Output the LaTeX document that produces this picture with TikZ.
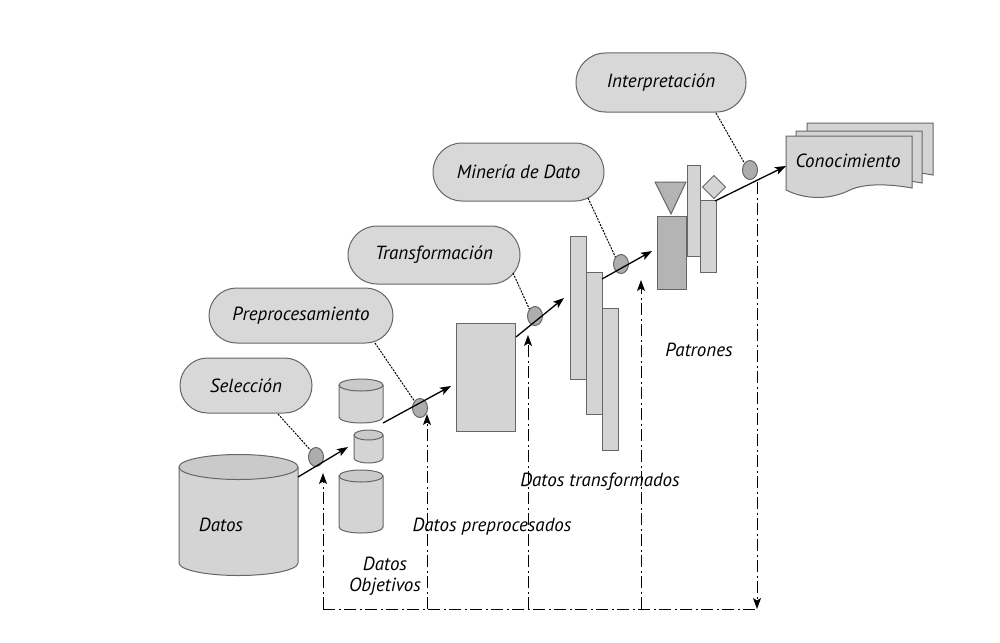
\documentclass[tikz,border=0pt]{standalone}
\usepackage{fontspec}
\setmainfont{PT Sans}
\usetikzlibrary{shapes.misc,shapes.geometric,arrows.meta}
\definecolor{lineg}{HTML}{666666}
\definecolor{pillg}{HTML}{D8D8D8}
\definecolor{barg}{HTML}{D4D4D4}
\definecolor{darkg}{HTML}{B4B4B4}
\definecolor{circg}{HTML}{ADADAD}
\definecolor{topg}{HTML}{CACACA}
\newcommand{\itf}{\fontsize{19}{21}\selectfont\itshape}
\newcommand{\mycyl}[6]{% name, cx, ty, rx, by, ry
  \fill[barg] (#2-#4,#3) -- (#2-#4,#5) arc[start angle=180,end angle=360,x radius=#4pt,y radius=#6pt] -- (#2+#4,#3) -- cycle;
  \draw[outl] (#2-#4,#3) -- (#2-#4,#5) arc[start angle=180,end angle=360,x radius=#4pt,y radius=#6pt] -- (#2+#4,#3);
  \draw[outl,fill=topg] (#2,#3) ellipse[x radius=#4pt,y radius=#6pt];
  \coordinate (#1) at (#2,{(#3+#5)/2});
}
\tikzset{
  outl/.style={draw=lineg, line width=1pt},
  pill/.style={rounded rectangle, outl, fill=pillg, font=\itf, inner sep=0pt},
  bar/.style={rectangle, outl, fill=barg, inner sep=0pt, anchor=north west},
  dbar/.style={bar, fill=darkg},
  conn/.style={ellipse, outl, fill=circg, minimum width=15pt, minimum height=19pt, inner sep=0pt},
  flow/.style={line width=1.3pt, -{Stealth[length=11pt,width=8pt,inset=2.5pt]}},
  callout/.style={line width=1pt, dash pattern=on 2pt off 1.2pt},
  track/.style={line width=1pt, dash pattern=on 12pt off 3.5pt on 2pt off 3.5pt},
  trackarr/.style={track, -{Stealth[length=11pt,width=8pt,inset=2.5pt]}},
  lab/.style={font=\itf, inner sep=0pt},
  doc/.style={outl, fill=barg}
}
\begin{document}
\begin{tikzpicture}[x=1pt,y=-1pt]
\useasboundingbox (0,0) rectangle (1000,642);

% cylinders
\mycyl{datos}{238.5}{467}{59.5}{563}{12.5}
\node[lab] (datoslab) at (221,525) {Datos};
\mycyl{cylA}{361}{385}{22}{417}{6}
\mycyl{cylB}{368.5}{435}{14.5}{458}{5}
\mycyl{cylC}{361}{476}{22}{527}{6}

% preprocessed box
\node[bar, minimum width=59pt, minimum height=108pt] (prep) at (456,323) {};
% transformed bars
\node[bar, minimum width=16pt, minimum height=143pt] (tA) at (570,236) {};
\node[bar, minimum width=16pt, minimum height=142pt] (tB) at (586,272) {};
\node[bar, minimum width=16pt, minimum height=142pt] (tC) at (602,308) {};
% patterns
\node[dbar, minimum width=29pt, minimum height=73pt] (pA) at (657,216) {};
\node[bar, minimum width=13pt, minimum height=91pt] (pB) at (687,165) {};
\node[bar, minimum width=16pt, minimum height=72pt] (pC) at (700,200) {};
\draw[outl, fill=darkg] (655,182) -- (686,182) -- (671,214) -- cycle;
\draw[outl, fill=barg] (714,175.5) -- (725.5,187) -- (714,198.5) -- (702.5,187) -- cycle;

% documents
\foreach \dx/\dy in {21/-13, 10/-5, 0/0}{
  \draw[doc, shift={(\dx,\dy)}] (786,136) -- (912,136) -- (912,188)
     .. controls (890,184) and (865,183) .. (850,190)
     .. controls (830,200) and (806,200) .. (786,190) -- cycle;
}
\node[lab] (con) at (848,161) {Conocimiento};

% pills
\node[pill, minimum width=132pt, minimum height=55pt] (sel) at (246,385.5) {Selección};
\node[pill, minimum width=184pt, minimum height=55pt] (pre) at (301,315.5) {Preprocesamiento};
\node[pill, minimum width=172pt, minimum height=58pt] (tra) at (434,255) {Transformación};
\node[pill, minimum width=171pt, minimum height=58pt] (min) at (518.5,172) {Minería de Dato};
\node[pill, minimum width=170pt, minimum height=59pt] (int) at (661,82.5) {Interpretación};

% connector circles
\node[conn] (c1) at (316,457) {};
\node[conn] (c2) at (420,408) {};
\node[conn] (c3) at (535,316) {};
\node[conn] (c4) at (621,264) {};
\node[conn] (c5) at (750,170) {};

% callouts
\coordinate (s1) at (278,414);
\coordinate (s2) at (375,343);
\coordinate (s3) at (513,273);
\coordinate (s4) at (588,198);
\coordinate (s5) at (716,113);
\draw[callout] (s1) -- (c1.north west);
\draw[callout] (s2) -- (c2.north west);
\draw[callout] (s3) -- (c3.north west);
\draw[callout] (s4) -- (c4.north west);
\draw[callout] (s5) -- (c5.north west);

% flow arrows
\coordinate (a1s) at (298,477); \coordinate (a1e) at (348,447);
\coordinate (a2s) at (383,423); \coordinate (a2e) at (451,386);
\coordinate (a3s) at (516,337); \coordinate (a3e) at (564,298);
\coordinate (a4s) at (602,279); \coordinate (a4e) at (652,251);
\coordinate (a5s) at (715,201); \coordinate (a5e) at (786,166);
\draw[flow] (a1s) -- (a1e);
\draw[flow] (a2s) -- (a2e);
\draw[flow] (a3s) -- (a3e);
\draw[flow] (a4s) -- (a4e);
\draw[flow] (a5s) -- (a5e);

% tracks
\coordinate (b1) at (323,609); \coordinate (t1) at (323,473);
\coordinate (b2) at (427,609); \coordinate (t2) at (427,414);
\coordinate (b3) at (528,609); \coordinate (t3) at (528,335);
\coordinate (b4) at (641,609); \coordinate (t4) at (641,280);
\coordinate (b5) at (757,609); \coordinate (t5) at (757,182);
\draw[track] (b1) -- (b5);
\draw[trackarr] (b1) -- (t1);
\draw[trackarr] (b2) -- (t2);
\draw[trackarr] (b3) -- (t3);
\draw[trackarr] (b4) -- (t4);
\draw[trackarr] (t5) -- (b5);

% labels
\node[lab, align=center] (dobj) at (385,576) {Datos\\[0pt]Objetivos};
\node[lab] (dpre) at (492,527) {Datos preprocesados};
\node[lab] (dtra) at (600,482) {Datos transformados};
\node[lab] (pat) at (699,350) {Patrones};
\end{tikzpicture}
\end{document}
